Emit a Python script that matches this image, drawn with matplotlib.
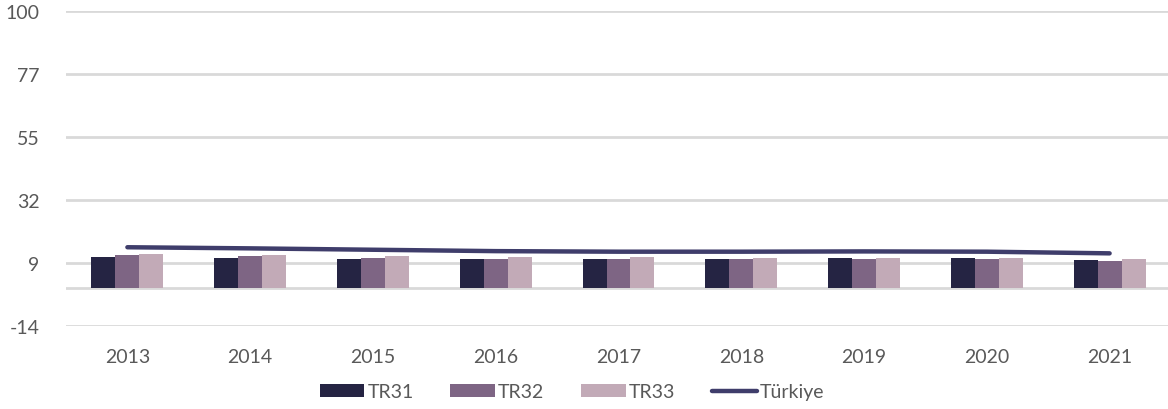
import numpy as np
import matplotlib.pyplot as plt

#%% Data
years = ["2013", "2014", "2015", "2016", "2017", "2018", "2019", "2020", "2021"]
tr31 = [11.3, 11.0, 10.7, 10.7, 10.6, 10.6, 10.8, 10.8, 10.2]
tr32 = [12.1, 11.5, 11.0, 10.7, 10.6, 10.6, 10.6, 10.5, 9.8]
tr33 = [12.4, 12.1, 11.5, 11.4, 11.2, 11.0, 10.9, 10.8, 10.5]
turkiye = [14.8, 14.4, 13.9, 13.4, 13.2, 13.2, 13.3, 13.2, 12.6]
yticks = [-13.6, 9.12, 31.84, 54.56, 77.28, 100]
ytick_labels = ["-14", "9", "32", "55", "77", "100"]

#%% Style
plt.rcParams['font.family'] = ['Lato', 'DejaVu Sans']
text_color = "#595959"
grid_color = "#d9d9d9"
c31, c32, c33, c_line = "#252443", "#7e6584", "#c2aab7", "#3f3d6b"

fig = plt.figure(figsize=(11.68, 4.10), dpi=100)
ax = fig.add_axes([66/1168, 1 - 327/410, 1105/1168, (327 - 12)/410])

x = np.arange(len(years))
w = 0.195
b1 = ax.bar(x - w, tr31, w, color=c31, label="TR31", zorder=3)
b2 = ax.bar(x, tr32, w, color=c32, label="TR32", zorder=3)
b3 = ax.bar(x + w, tr33, w, color=c33, label="TR33", zorder=3)
ln, = ax.plot(x, turkiye, color=c_line, lw=3.2, solid_capstyle="round", label="Türkiye", zorder=4)

ax.set_xlim(-0.5, len(years) - 0.5)
ax.set_ylim(yticks[0], yticks[-1])
ax.set_yticks(yticks)
ax.set_yticklabels(ytick_labels)
ax.set_xticks(x)
ax.set_xticklabels(years)
ax.yaxis.grid(True, color=grid_color, lw=2, zorder=0)
ax.axhline(0, color=grid_color, lw=2, zorder=1)
ax.tick_params(length=0, labelsize=14, colors=text_color)
ax.tick_params(axis="y", pad=19)
ax.tick_params(axis="x", pad=16)
for s in ax.spines.values():
    s.set_visible(False)

fig.legend([b1, b2, b3, ln], ["TR31", "TR32", "TR33", "Türkiye"],
           loc="center", bbox_to_anchor=(572/1168, 1 - 393/410), ncol=4, frameon=False,
           fontsize=14, handlelength=2.3, handleheight=0.65, handletextpad=0.15,
           columnspacing=1.9, labelcolor=text_color)

fig.savefig("out.png", dpi=100)
